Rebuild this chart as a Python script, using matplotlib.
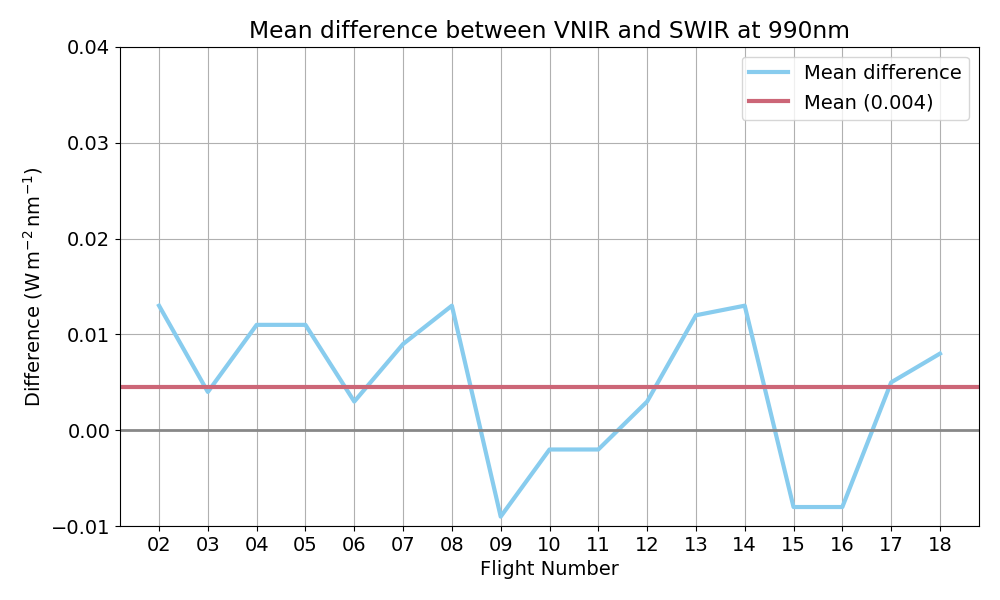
import numpy as np
from matplotlib import pyplot as plt

flights = ["02", "03", "04", "05", "06", "07", "08", "09", "10",
           "11", "12", "13", "14", "15", "16", "17", "18"]
mean_diff = [0.013, 0.004, 0.011, 0.011, 0.003, 0.009, 0.013, -0.009, -0.002,
             -0.002, 0.003, 0.012, 0.013, -0.008, -0.008, 0.005, 0.008]

plt.rcParams['font.size'] = 14

overall_mean = np.mean(mean_diff)
x = np.arange(len(flights))

fig, ax = plt.subplots(figsize=(10, 6), dpi=100)
fig.subplots_adjust(left=0.12, right=0.979, top=0.922, bottom=0.123)

ax.plot(x, mean_diff, color="#88CCEE", linewidth=3, label="Mean difference")
ax.axhline(overall_mean, color="#CC6677", linewidth=3,
           label=f"Mean ({np.floor(overall_mean * 1000) / 1000:.3f})")
ax.axhline(0, color="#888888", linewidth=2)

ax.set_xticks(x)
ax.set_xticklabels(flights)
ax.set_xlim(-0.8, len(flights) - 0.2)
ax.set_ylim(-0.01, 0.04)
ax.set_yticks([-0.01, 0.0, 0.01, 0.02, 0.03, 0.04])
ax.grid(True, color="#b0b0b0")
ax.set_axisbelow(True)

ax.set_xlabel("Flight Number")
ax.set_ylabel(r"Difference ($\mathrm{W\,m^{-2}\,nm^{-1}}$)")
ax.set_title("Mean difference between VNIR and SWIR at 990nm")
ax.legend(loc="upper right")

fig.savefig("out.png")
